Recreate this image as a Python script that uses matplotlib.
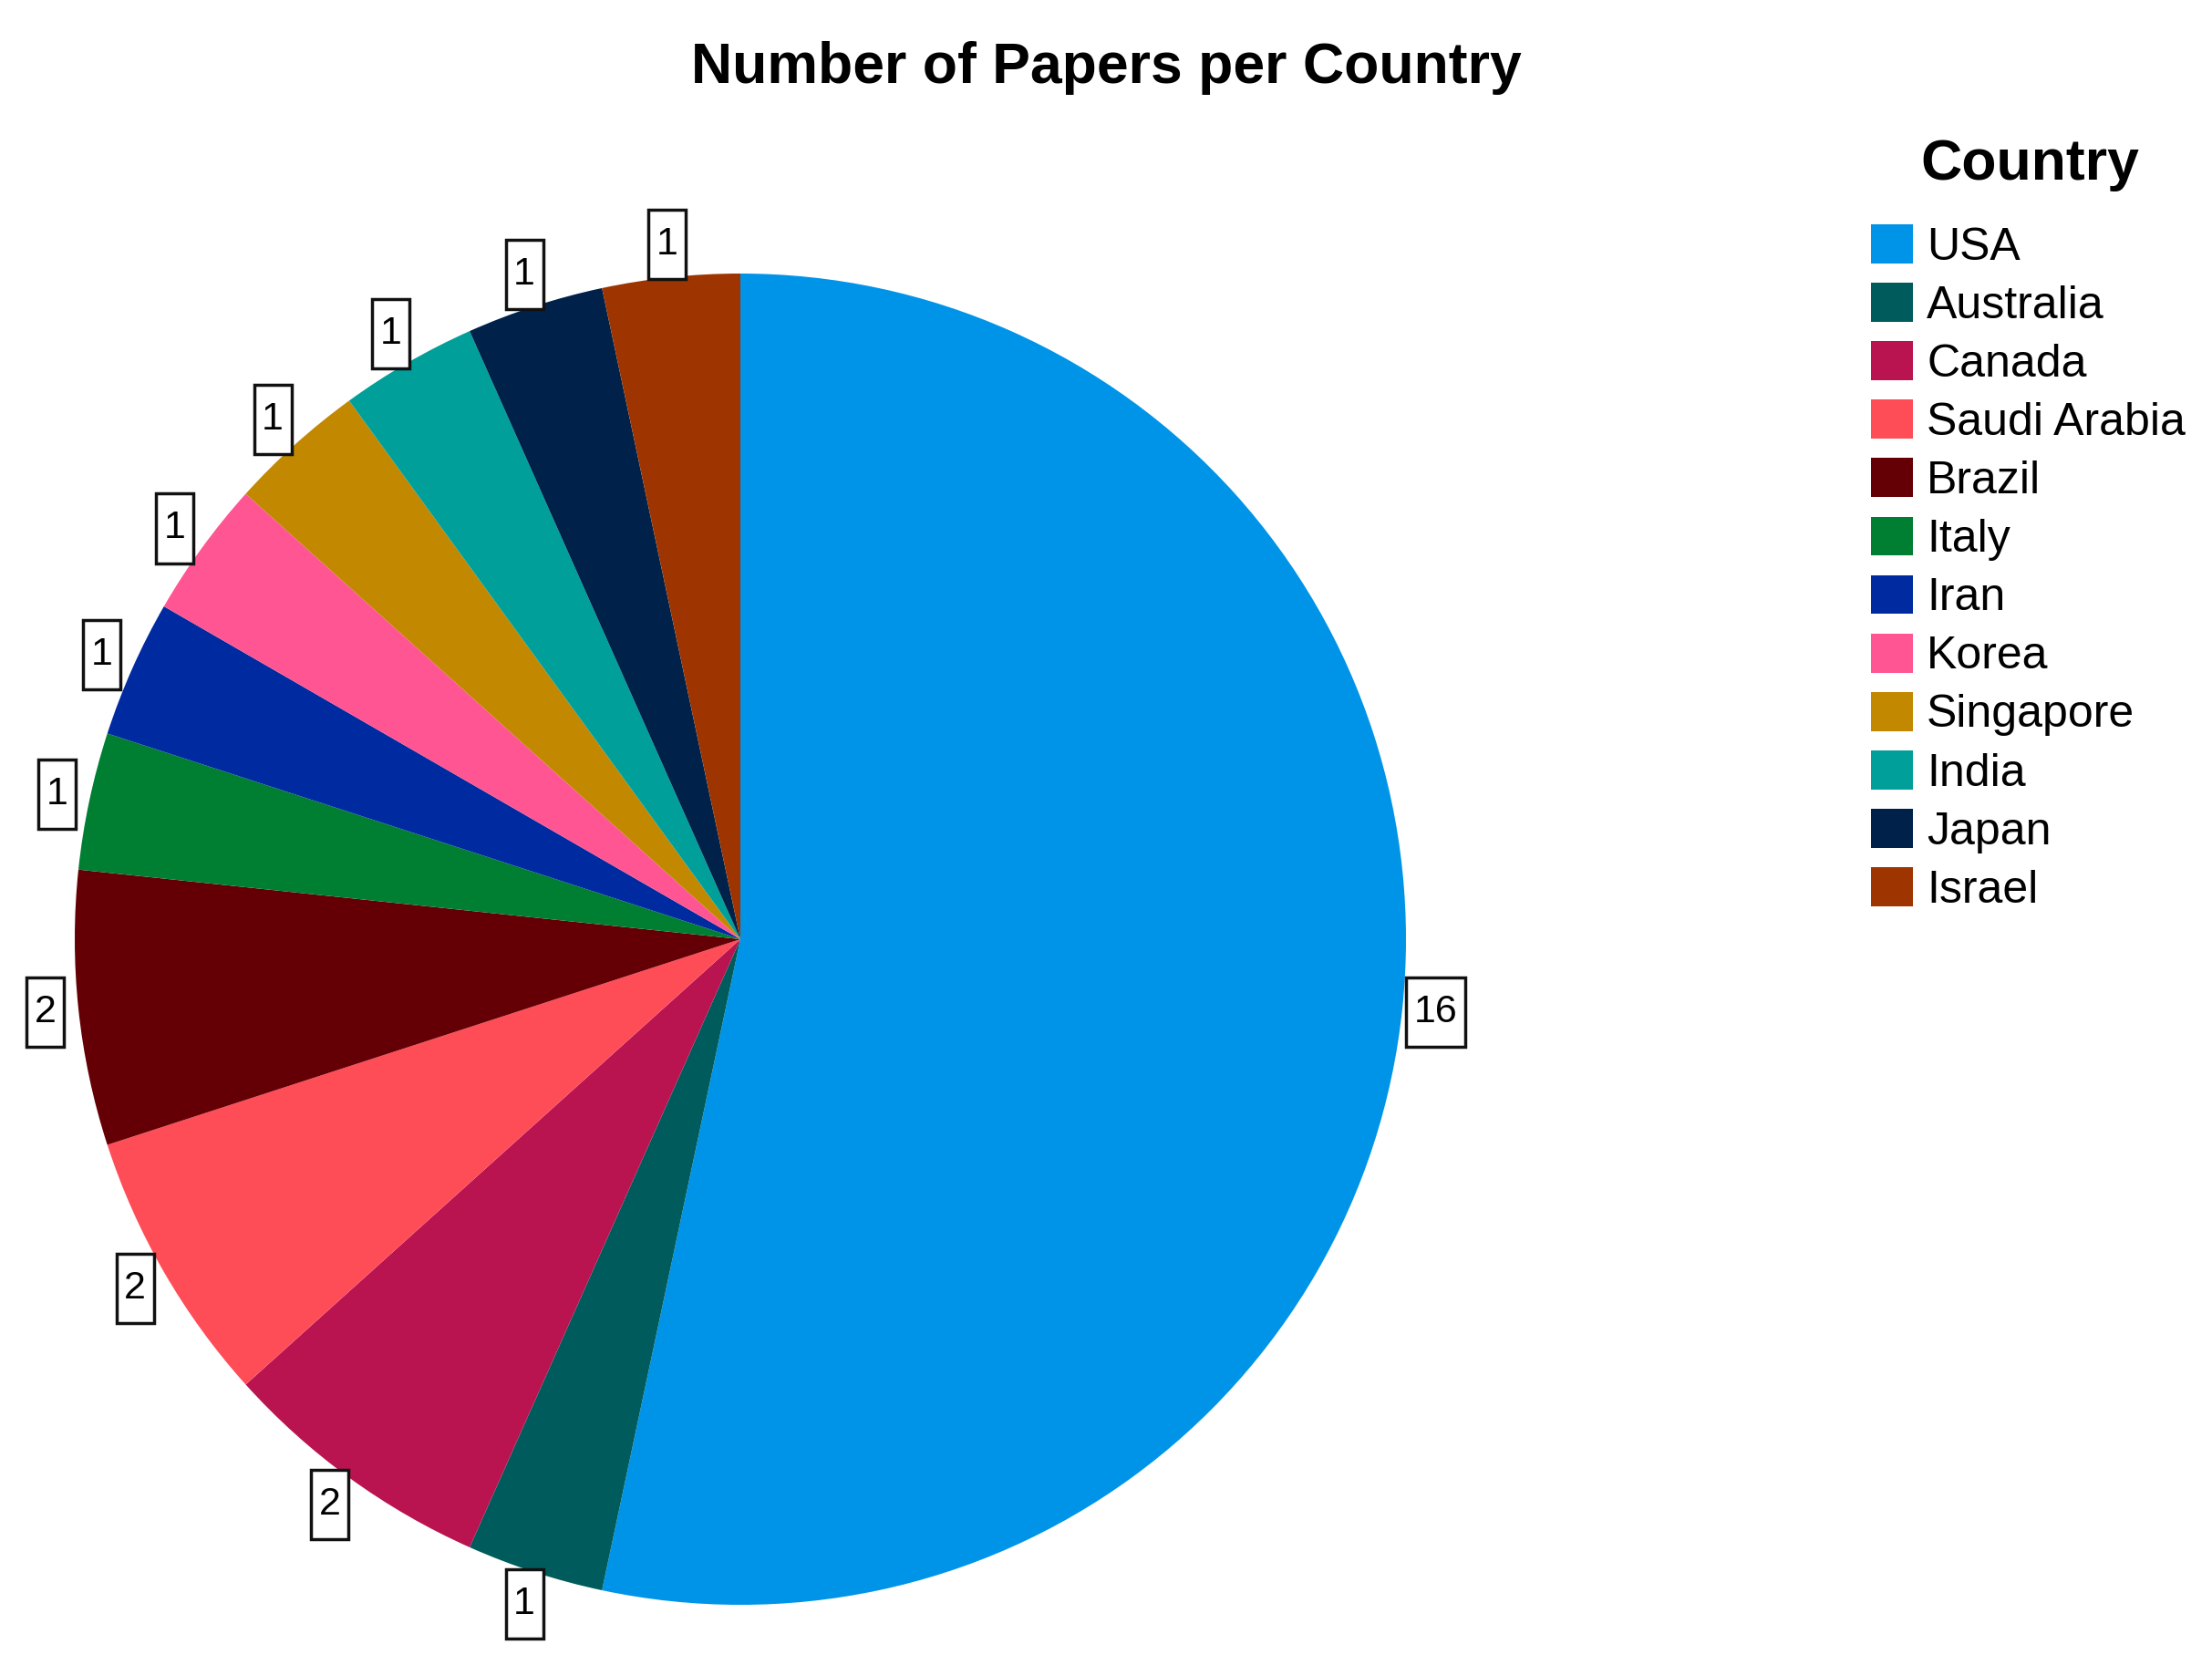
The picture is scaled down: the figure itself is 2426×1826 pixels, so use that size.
import matplotlib
matplotlib.use('Agg')
import matplotlib.pyplot as plt
from matplotlib.path import Path

countries = ['USA', 'Australia', 'Canada', 'Saudi Arabia', 'Brazil', 'Italy',
             'Iran', 'Korea', 'Singapore', 'India', 'Japan', 'Israel']
papers = [16, 1, 2, 2, 2, 1, 1, 1, 1, 1, 1, 1]
colors = ['#0094E8', '#005C5C', '#B91350', '#FF4D58', '#640005', '#007E32',
          '#002AA0', '#FF5592', '#C18800', '#009F99', '#00224A', '#9E3400']
title = 'Number of Papers per Country'
legend_title = 'Country'


def tall_box(x0, y0, width, height, mutation_size):
    px = 0.2 * mutation_size
    py = 0.42 * mutation_size
    xa, ya = x0 - px, y0 - py
    xb, yb = x0 + width + px, y0 + height + py
    return Path([(xa, ya), (xb, ya), (xb, yb), (xa, yb), (xa, ya)], closed=True)


W, H = 2426, 1826
fig = plt.figure(figsize=(W / 100, H / 100), dpi=100)
cx, cy, R = 812, 1030, 730
ax = fig.add_axes([(cx - R) / W, (H - cy - R) / H, 2 * R / W, 2 * R / H])
wedges, texts = ax.pie(papers, colors=colors, startangle=90, counterclock=False,
                       labels=[str(v) for v in papers], labeldistance=1.05,
                       wedgeprops=dict(linewidth=0),
                       textprops=dict(fontsize=31, family='Liberation Sans'))
for t in texts:
    t.set_ha('center')
    t.set_va('center')
    t.set_bbox(dict(boxstyle=tall_box, facecolor='white',
                    edgecolor='#111111', linewidth=2.5))
ax.set_xlim(-1, 1)
ax.set_ylim(-1, 1)
ax.set_aspect('equal')

fig.text(1213 / W, 1 - 91 / H, title, ha='center', va='baseline',
         fontsize=45, fontweight='bold', family='Liberation Sans')

fig.text(2226 / W, 1 - 197 / H, legend_title, ha='center', va='baseline',
         fontsize=45, fontweight='bold', family='Liberation Sans')

leg = fig.legend(wedges, countries, loc='upper left',
                 bbox_to_anchor=(2052 / W, 1 - 246 / H), frameon=False,
                 prop=dict(family='Liberation Sans', size=36),
                 handlelength=0.92, handleheight=0.94, handletextpad=0.3,
                 labelspacing=0.31, borderpad=0, borderaxespad=0)

fig.savefig('out.png', dpi=100)
